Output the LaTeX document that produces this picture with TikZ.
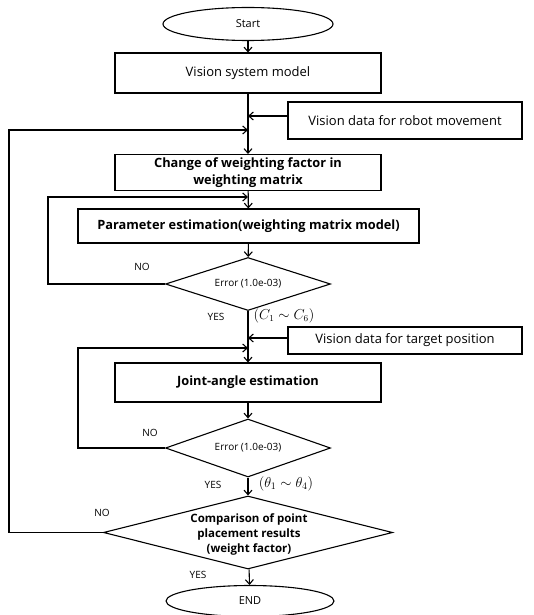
\documentclass[tikz,border=0pt]{standalone}
\usepackage{amsmath}
\usepackage{amssymb}
\usepackage{fontspec}
\setmainfont{Open Sans}
\usetikzlibrary{shapes.geometric,arrows.meta}

\begin{document}
\begin{tikzpicture}[x = 1pt, y = -1pt, line width = 1.1pt,
        >={Straight Barb[length=4.5pt,width=8pt]},
        proc/.style = {draw, rectangle, inner sep = 0pt, font = \fontsize{13}{15}\selectfont},
        bproc/.style = {proc, font = \fontsize{12.8}{16.5}\selectfont\bfseries, align = center},
        term/.style = {draw, ellipse, inner sep = 0pt, font = \fontsize{11}{13}\selectfont},
        decision/.style = {draw, diamond, inner sep = 0pt},
        small/.style = {inner sep = 0pt, font = \fontsize{10}{12}\selectfont},
        dtext/.style = {inner sep = 0pt, align = center, font = \fontsize{11.5}{15}\selectfont\bfseries}]
        \useasboundingbox (0,0) rectangle (533,615);

        % main column
        \node[term, minimum width = 170pt, minimum height = 33pt] (start) at (248, 24) {Start};
        \node[proc, minimum width = 266pt, minimum height = 40pt] (vsm) at (248, 73) {Vision system model};
        \node[proc, minimum width = 234pt, minimum height = 37pt] (vdrm) at (405, 120.5) {Vision data for robot movement};
        \node[bproc, minimum width = 266pt, minimum height = 36pt] (cwf) at (248, 172.5) {Change of weighting factor in\\weighting matrix};
        \node[bproc, minimum width = 341pt, minimum height = 34pt] (pe) at (248.5, 226) {Parameter estimation(weighting matrix model)};
        \node[decision, minimum width = 165pt, minimum height = 53pt] (err1) at (248, 284) {};
        \node[small] (err1t) at (err1) {Error (1.0e-03)};
        \node[proc, minimum width = 234pt, minimum height = 27pt] (vdtp) at (405, 340.5) {Vision data for target position};
        \node[bproc, minimum width = 266pt, minimum height = 39pt] (jae) at (248, 382.5) {Joint-angle estimation};
        \node[decision, minimum width = 165pt, minimum height = 58pt] (err2) at (248, 448) {};
        \node[small] (err2t) at (err2) {Error (1.0e-03)};
        \node[decision, minimum width = 289pt, minimum height = 73pt] (cmp) at (248, 532.5) {};
        \node[dtext] (cmpt) at (249, 534) {Comparison of point\\placement results\\(weight factor)};
        \node[term, minimum width = 168pt, minimum height = 31pt] (end) at (250, 601) {END};

        % joins on the main line
        \coordinate (j1) at (248, 116);
        \coordinate (j2) at (248, 130);
        \coordinate (j3) at (248, 197);
        \coordinate (j4) at (248, 338);
        \coordinate (j5) at (248, 348);

        \draw[->] (start) -- (vsm);
        \draw[->] (vsm) -- (cwf);
        \draw[->] (cwf) -- (pe);
        \draw[->] (pe) -- (err1);
        \draw[->] (err1) -- (jae);
        \draw[->] (jae) -- (err2);
        \draw[->] (err2) -- (cmp);
        \draw[->] (cmp) -- (end);

        \draw[->] (vdrm.west |- j1) -- (j1);
        \draw[->] (vdtp.west |- j4) -- (j4);

        % feedback loops
        \draw[->] (err1.west) -- (48, 284) -- (48, 197) -- (j3);
        \draw[->] (err2.west) -- (78, 448) -- (78, 348) -- (j5);
        \draw[->] (cmp.west) -- (9, 532.5) -- (9, 130) -- (j2);

        % labels
        \node[small] (no1) at (142, 267) {NO};
        \node[small] (yes1) at (216, 317) {YES};
        \node[inner sep = 0pt, font = \fontsize{13.5}{15}\selectfont] (c16) at (284, 316) {$(C_1 \sim C_6)$};
        \node[small] (no2) at (150, 433) {NO};
        \node[small] (yes2) at (213, 485) {YES};
        \node[inner sep = 0pt, font = \fontsize{14}{16}\selectfont] (t14) at (286, 484) {$(\theta_1 \sim \theta_4)$};
        \node[small] (no3) at (102, 513) {NO};
        \node[small] (yes3) at (198, 575) {YES};
      \end{tikzpicture}
\end{document}
